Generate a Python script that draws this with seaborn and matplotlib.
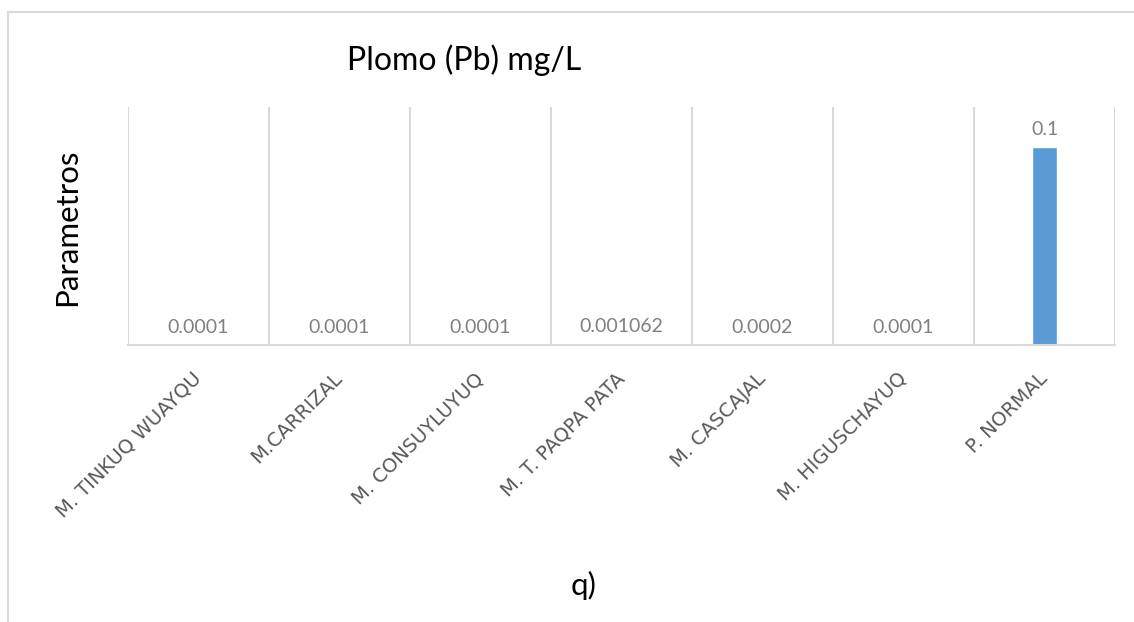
import matplotlib
matplotlib.use("Agg")
import matplotlib.pyplot as plt
from matplotlib.lines import Line2D
import seaborn as sns
import pandas as pd
import numpy as np

categories = ["M. TINKUQ WUAYQU", "M.CARRIZAL", "M. CONSUYLUYUQ", "M. T. PAQPA PATA",
              "M. CASCAJAL", "M. HIGUSCHAYUQ", "P. NORMAL"]
values = [0.0001, 0.0001, 0.0001, 0.001062, 0.0002, 0.0001, 0.1]
value_labels = ["0.0001", "0.0001", "0.0001", "0.001062", "0.0002", "0.0001", "0.1"]
title = "Plomo (Pb) mg/L"
ylabel = "Parametros"
xlabel = "q)"

sns.set_theme(style="white")
plt.rcParams['font.family'] = ['Lato', 'DejaVu Sans']

df = pd.DataFrame({"cat": categories, "val": values})

W, H = 1134, 622
fig = plt.figure(figsize=(W / 100, H / 100), dpi=100)
ax = fig.add_axes([128 / W, 1 - 345 / H, (1115 - 128) / W, (345 - 107) / H])

sns.barplot(data=df, x="cat", y="val", color="#5b9bd5", width=0.18, saturation=1,
            ax=ax, order=categories)

ax.set_ylim(0, 0.12)
ax.set_xlim(-0.5, len(categories) - 0.5)
ax.set_yticks([])
ax.set_xlabel("")
ax.set_ylabel("")

# category boundary gridlines
ax.set_xticks(np.arange(-0.5, len(categories), 1.0), minor=True)
ax.grid(True, axis="x", which="minor", color="#d9d9d9", linewidth=1.5)
ax.grid(False, axis="x", which="major")
ax.tick_params(axis="x", which="both", length=0)

for s in ["top", "left", "right"]:
    ax.spines[s].set_visible(False)
ax.spines["bottom"].set_color("#d9d9d9")
ax.spines["bottom"].set_linewidth(1.5)

ax.set_xticks(range(len(categories)))
ax.set_xticklabels(categories, rotation=45, ha="right", va="center",
                   rotation_mode="anchor", fontsize=14, color="#595959",
                   family=['DejaVu Sans'])
ax.tick_params(axis="x", which="major", pad=22)

ax.bar_label(ax.containers[0], labels=value_labels, padding=6, fontsize=14,
             color="#808080")

fig.text(464 / W, 1 - 60 / H, title, ha="center", va="center", fontsize=23, color="#000000")
fig.text(67 / W, 1 - 227 / H, ylabel, ha="center", va="center", rotation=90,
         fontsize=22.5, color="#000000")
fig.text(584 / W, 1 - 585 / H, xlabel, ha="center", va="center", fontsize=22.5, color="#000000")

# outer chart border (top and left visible)
fig.add_artist(Line2D([8 / W, 1.0], [1 - 12 / H, 1 - 12 / H], color="#d9d9d9", lw=1.5,
                      transform=fig.transFigure))
fig.add_artist(Line2D([8 / W, 8 / W], [1 - 12 / H, 0.0], color="#d9d9d9", lw=1.5,
                      transform=fig.transFigure))

fig.savefig("out.png", dpi=100, facecolor="white")
